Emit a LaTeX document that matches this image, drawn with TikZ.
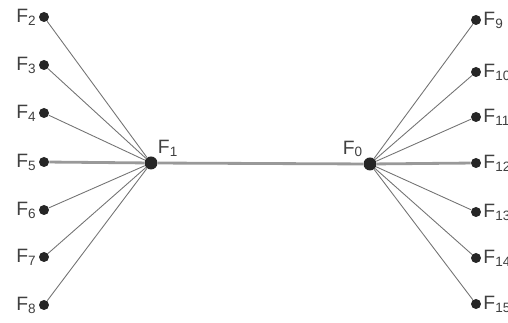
\documentclass[tikz,border=0pt]{standalone}
\usepackage{fontspec}
\setmainfont{Liberation Sans}
\usetikzlibrary{positioning}

\begin{document}
\begin{tikzpicture}[x=0.02cm, y=-0.02cm,
  dot/.style={circle, fill=black!85, inner sep=0pt, minimum size=2.6mm},
  lbl/.style={font=\fontsize{11}{13}\selectfont, text=black!75, inner sep=1pt},
  spoke/.style={black!55, line width=0.5pt},
  axis/.style={black!40, line width=1.6pt}
]
\useasboundingbox (0,0) rectangle (508,323);
% hubs
\node[dot, label={[lbl, anchor=south west]north east:F\textsubscript{1}}] (f1) at (151,163) {};
\node[dot, label={[lbl, anchor=south east]north west:F\textsubscript{0}}] (f0) at (370,164) {};
% left leaves
\foreach \i/\y in {2/17, 3/65, 4/113, 5/162, 6/210, 7/257, 8/305}
  \node[dot, minimum size=2mm, label={[lbl]left:F\textsubscript{\i}}] (f\i) at (44,\y) {};
% right leaves
\foreach \i/\y in {9/20, 10/72, 11/117, 12/163, 13/212, 14/258, 15/304}
  \node[dot, minimum size=2mm, label={[lbl]right:F\textsubscript{\i}}] (f\i) at (476,\y) {};
% connectors
\foreach \i in {2,3,4,6,7,8}
  \draw[spoke] (f\i) -- (f1);
\foreach \i in {9,10,11,13,14,15}
  \draw[spoke] (f\i) -- (f0);
\draw[axis] (f5) -- (f1);
\draw[axis] (f1) -- (f0);
\draw[axis] (f0) -- (f12);
\end{tikzpicture}
\end{document}
